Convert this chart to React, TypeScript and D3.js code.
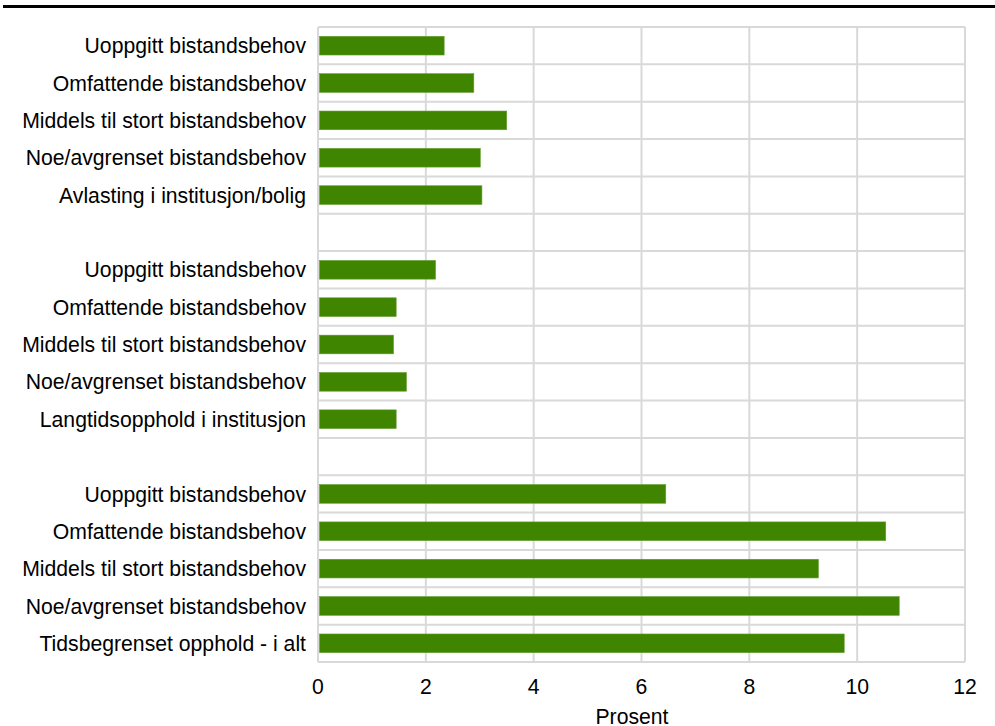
import React from "react";
import * as d3 from "d3";

const rowLabels = [
  "Uoppgitt bistandsbehov",
  "Omfattende bistandsbehov",
  "Middels til stort bistandsbehov",
  "Noe/avgrenset bistandsbehov",
  "Avlasting i institusjon/bolig",
  "",
  "Uoppgitt bistandsbehov",
  "Omfattende bistandsbehov",
  "Middels til stort bistandsbehov",
  "Noe/avgrenset bistandsbehov",
  "Langtidsopphold i institusjon",
  "",
  "Uoppgitt bistandsbehov",
  "Omfattende bistandsbehov",
  "Middels til stort bistandsbehov",
  "Noe/avgrenset bistandsbehov",
  "Tidsbegrenset opphold - i alt",
];

const values: (number | null)[] = [
  2.34, 2.89, 3.5, 3.01, 3.04, null,
  2.18, 1.45, 1.4, 1.64, 1.45, null,
  6.45, 10.53, 9.28, 10.78, 9.76,
];

const xTicks = [0, 2, 4, 6, 8, 10, 12];
const xAxisTitle = "Prosent";

const W = 995;
const H = 726;
const left = 318;
const right = 965;
const top = 27;
const bottom = 662;
const FONT = "'Liberation Sans', Arial, sans-serif";
const FS = 21.2;

export default function App() {
  const x = d3.scaleLinear().domain([0, 12]).range([left, right]);
  const y = d3
    .scaleBand<number>()
    .domain(rowLabels.map((_, i) => i))
    .range([top, bottom])
    .paddingInner(0.5)
    .paddingOuter(0.25);
  const step = y.step();
  const rowEdges = d3.range(rowLabels.length + 1).map((i) => top + i * step);

  return (
    <svg
      width={W}
      height={H}
      style={{ position: "absolute", left: 0, top: 0, background: "#fff" }}
      fontFamily={FONT}
    >
      <line x1={3} x2={W} y1={6.5} y2={6.5} stroke="#000" strokeWidth={3} />
      {rowEdges.map((ry, i) => (
        <line key={"h" + i} x1={left} x2={right} y1={ry} y2={ry} stroke="#d9d9d9" strokeWidth={2} />
      ))}
      {xTicks.map((t) => (
        <line key={"v" + t} x1={x(t)} x2={x(t)} y1={top} y2={bottom} stroke="#d9d9d9" strokeWidth={2} />
      ))}
      {values.map((v, i) =>
        v == null ? null : (
          <rect
            key={"b" + i}
            x={x(0) + 1.5}
            y={y(i)!}
            width={x(v) - x(0) - 1.5}
            height={y.bandwidth()}
            fill="#408500"
            stroke="#5f9c2e"
            strokeWidth={0.6}
          />
        )
      )}
      {rowLabels.map((l, i) => (
        <text
          key={"l" + i}
          x={306}
          y={y(i)! + y.bandwidth() / 2}
          dy="0.36em"
          textAnchor="end"
          fontSize={FS}
          fill="#000"
        >
          {l}
        </text>
      ))}
      {xTicks.map((t) => (
        <text key={"t" + t} x={x(t)} y={686.5} dy="0.36em" textAnchor="middle" fontSize={FS} fill="#000">
          {t}
        </text>
      ))}
      <text x={632} y={716} dy="0.36em" textAnchor="middle" fontSize={FS} fill="#000">
        {xAxisTitle}
      </text>
    </svg>
  );
}
